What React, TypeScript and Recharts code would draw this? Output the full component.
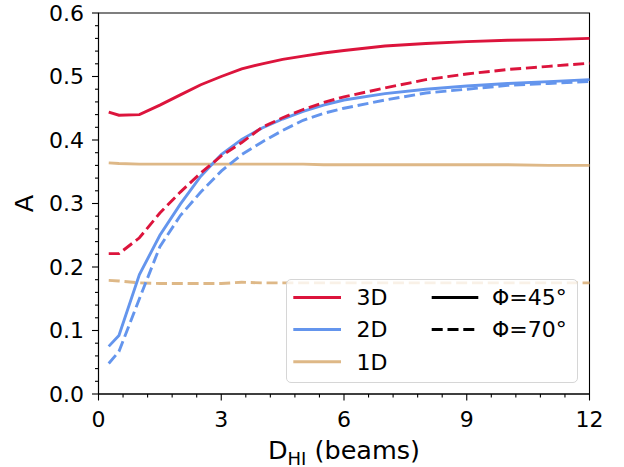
import { LineChart, Line, XAxis, YAxis, ReferenceArea } from 'recharts';

const FONT = '"DejaVu Sans", sans-serif';
const RED = '#DC143C';
const BLUE = '#6495ED';
const TAN = '#DEB887';
const DASH = '11 4.8';

// beam sizes sampled
const beams = [0.25, 0.5, 1, 1.5, 2, 2.5, 3, 3.5, 4, 4.5, 5, 5.5, 6, 7, 8, 9, 10, 11, 12];

// A values, phi = 45 (solid) and phi = 70 (dashed)
const a3d45 = [0.444, 0.439, 0.44, 0.455, 0.471, 0.487, 0.5, 0.512, 0.52, 0.527, 0.532, 0.537, 0.541, 0.548, 0.552, 0.555, 0.557, 0.558, 0.56];
const a3d70 = [0.221, 0.221, 0.246, 0.285, 0.318, 0.348, 0.375, 0.396, 0.42, 0.435, 0.448, 0.459, 0.468, 0.482, 0.495, 0.504, 0.511, 0.516, 0.521];
const a2d45 = [0.075, 0.092, 0.188, 0.25, 0.299, 0.343, 0.377, 0.401, 0.419, 0.433, 0.445, 0.455, 0.463, 0.473, 0.48, 0.485, 0.489, 0.492, 0.495];
const a2d70 = [0.048, 0.067, 0.15, 0.232, 0.281, 0.318, 0.351, 0.377, 0.397, 0.415, 0.431, 0.442, 0.45, 0.463, 0.474, 0.48, 0.486, 0.489, 0.492];
const a1d45 = [0.364, 0.363, 0.362, 0.362, 0.362, 0.362, 0.362, 0.362, 0.362, 0.362, 0.362, 0.361, 0.361, 0.361, 0.361, 0.361, 0.361, 0.36, 0.36];
const a1d70 = [0.179, 0.178, 0.175, 0.174, 0.174, 0.174, 0.174, 0.176, 0.175, 0.175, 0.175, 0.175, 0.175, 0.175, 0.175, 0.175, 0.175, 0.175, 0.175];

const xMajor = [0, 3, 6, 9, 12];
const yMajor = [0, 0.1, 0.2, 0.3, 0.4, 0.5, 0.6];

// minor ticks: 5 per major x interval, 5 per major y interval
const xTicks: number[] = [];
for (let i = 0; i <= 20; i++) xTicks.push(Math.round(i * 0.6 * 100) / 100);
const yTicks: number[] = [];
for (let i = 0; i <= 30; i++) yTicks.push(Math.round(i * 0.02 * 1000) / 1000);

const colorRows = [
  { label: '3D', color: RED },
  { label: '2D', color: BLUE },
  { label: '1D', color: TAN },
];
const styleRows = [
  { label: 'Φ=45°', dash: undefined as string | undefined },
  { label: 'Φ=70°', dash: DASH },
];

const data = beams.map((b, i) => ({
  b,
  a3d45: a3d45[i],
  a3d70: a3d70[i],
  a2d45: a2d45[i],
  a2d70: a2d70[i],
  a1d45: a1d45[i],
  a1d70: a1d70[i],
}));

const isMajor = (v: number, list: number[]) => list.some((m) => Math.abs(m - v) < 1e-6);

function XTick({ x, y, payload }: any) {
  const major = isMajor(payload.value, xMajor);
  return (
    <g>
      <line x1={x} x2={x} y1={y} y2={y + (major ? 6.5 : 3.5)} stroke="#000" strokeWidth={1.1} />
      {major && (
        <text x={x} y={y + 33} textAnchor="middle" fontSize={22} fontFamily={FONT} fill="#000">
          {payload.value}
        </text>
      )}
    </g>
  );
}

function YTick({ x, y, payload }: any) {
  const major = isMajor(payload.value, yMajor);
  return (
    <g>
      <line x1={x} x2={x - (major ? 6.5 : 3.5)} y1={y} y2={y} stroke="#000" strokeWidth={1.1} />
      {major && (
        <text x={x - 14.5} y={y} dy="0.36em" textAnchor="end" fontSize={22} fontFamily={FONT} fill="#000">
          {payload.value.toFixed(1)}
        </text>
      )}
    </g>
  );
}

function LegendBox() {
  const rowY = [18.5, 50.5, 82.7];
  return (
    <div
      style={{
        position: 'absolute',
        left: 286,
        top: 279,
        width: 292,
        height: 104,
        boxSizing: 'border-box',
        background: 'rgba(255,255,255,0.8)',
        border: '1px solid #d6d6d6',
        borderRadius: 5,
      }}
    >
      <svg width={292} height={104} style={{ position: 'absolute', left: -1, top: -1 }}>
        {colorRows.map((r, i) => (
          <g key={r.label}>
            <line x1={7.3} x2={55} y1={rowY[i]} y2={rowY[i]} stroke={r.color} strokeWidth={2.9} />
            <text x={70.5} y={rowY[i]} dy="0.36em" fontSize={22} fontFamily={FONT} fill="#000">
              {r.label}
            </text>
          </g>
        ))}
        {styleRows.map((r, i) => (
          <g key={r.label}>
            <line x1={145.7} x2={192.3} y1={rowY[i]} y2={rowY[i]} stroke="#000" strokeWidth={2.9} strokeDasharray={r.dash} />
            <text x={206} y={rowY[i]} dy="0.36em" fontSize={22} fontFamily={FONT} fill="#000">
              {r.label}
            </text>
          </g>
        ))}
      </svg>
    </div>
  );
}

export default function App() {
  return (
    <div style={{ position: 'absolute', left: 0, top: 0, width: 624, height: 467, background: '#fff' }}>
      <LineChart width={624} height={467} data={data} margin={{ top: 13, right: 34.5, left: 0, bottom: 0 }}>
        <XAxis
          dataKey="b"
          type="number"
          domain={[0, 12]}
          ticks={xTicks}
          interval={0}
          tickSize={0}
          tickMargin={0}
          tick={<XTick />}
          height={73}
          axisLine={{ stroke: '#000', strokeWidth: 1.1 }}
          label={(p: any) => {
            const vb = p.viewBox;
            return (
              <text x={vb.x + vb.width / 2} y={vb.y + 64.5} textAnchor="middle" fontSize={25.5} fontFamily={FONT} fill="#000">
                D
                <tspan fontSize={18} dy={6}>HI</tspan>
                <tspan dy={-6}> (beams)</tspan>
              </text>
            );
          }}
        />
        <YAxis
          type="number"
          domain={[0, 0.6]}
          ticks={yTicks}
          interval={0}
          tickSize={0}
          tickMargin={0}
          tick={<YTick />}
          width={98.5}
          axisLine={{ stroke: '#000', strokeWidth: 1.1 }}
          label={(p: any) => {
            const vb = p.viewBox;
            const cx = vb.x + 24;
            const cy = vb.y + vb.height / 2;
            return (
              <text x={cx} y={cy} dy="0.36em" textAnchor="middle" fontSize={25.5} fontFamily={FONT} fill="#000" transform={`rotate(-90 ${cx} ${cy})`}>
                A
              </text>
            );
          }}
        />
        <Line dataKey="a1d45" stroke={TAN} strokeWidth={2.9} dot={false} isAnimationActive={false} type="linear" />
        <Line dataKey="a1d70" stroke={TAN} strokeWidth={2.9} strokeDasharray={DASH} dot={false} isAnimationActive={false} type="linear" />
        <Line dataKey="a2d70" stroke={BLUE} strokeWidth={2.9} strokeDasharray={DASH} dot={false} isAnimationActive={false} type="linear" />
        <Line dataKey="a2d45" stroke={BLUE} strokeWidth={2.9} dot={false} isAnimationActive={false} type="linear" />
        <Line dataKey="a3d70" stroke={RED} strokeWidth={2.9} strokeDasharray={DASH} dot={false} isAnimationActive={false} type="linear" />
        <Line dataKey="a3d45" stroke={RED} strokeWidth={2.9} dot={false} isAnimationActive={false} type="linear" />
        <ReferenceArea x1={0} x2={12} y1={0} y2={0.6} fill="none" stroke="#000" strokeWidth={1.1} ifOverflow="visible" />
      </LineChart>
      <LegendBox />
    </div>
  );
}
